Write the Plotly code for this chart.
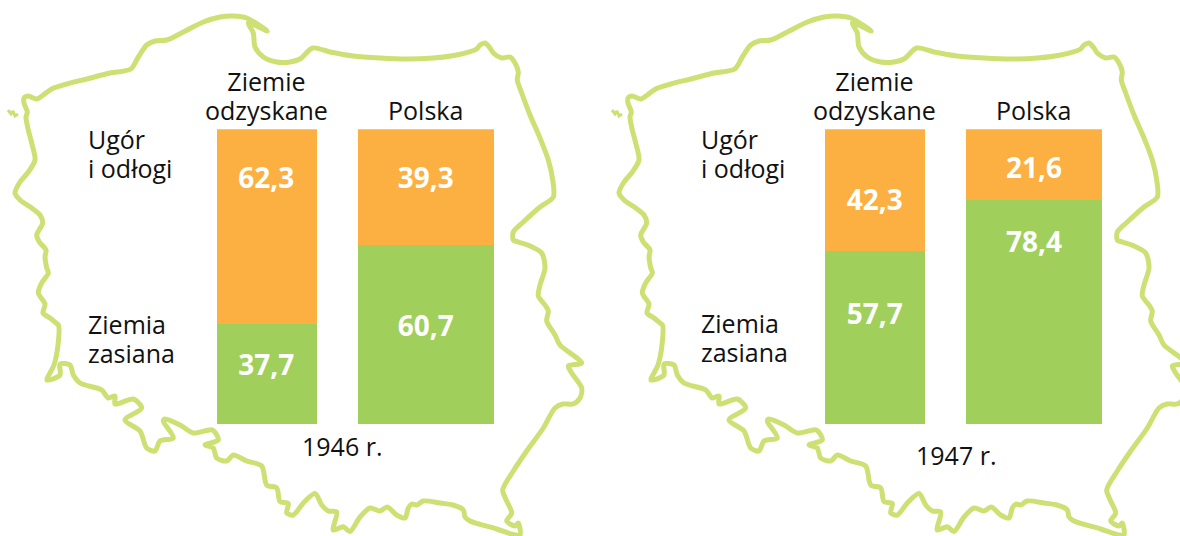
import plotly.graph_objects as go

# Printed values (as labelled in the picture)
categories = ["Ziemie odzyskane", "Polska"]
fallow_labels_1946 = ["62,3", "39,3"]
sown_labels_1946 = ["37,7", "60,7"]
fallow_labels_1947 = ["42,3", "21,6"]
sown_labels_1947 = ["57,7", "78,4"]

# Bar heights as drawn in the picture, % of the column (the source art is not exactly to scale)
sown_1946 = [33.9, 60.6]
fallow_1946 = [66.1, 39.4]
sown_1947 = [58.8, 76.1]
fallow_1947 = [41.2, 23.9]

# Label heights on the same 0-100 scale
fallow_label_y_1946 = [82.6, 82.6]
sown_label_y_1946 = [19.1, 32.3]
fallow_label_y_1947 = [75.0, 85.8]
sown_label_y_1947 = [36.4, 60.7]

# Decorative outline of Poland, canvas pixels
outline_x = [60, 60, 47, 54, 58, 58.5, 56, 50, 43, 45, 38.3, 41.7, 48.3, 46.7,
             46.7, 45, 46, 39.3, 36.7, 42.7, 40, 31.7, 20, 15, 20, 28.3, 35, 31.7, 28.3, 26, 27.3, 24, 24, 28.3, 36.7, 43.3,
             51.7, 66.7, 86.7, 110, 130.7, 138.3, 146.7, 155, 166.7, 183.3, 203.3, 220, 233.3, 246.7, 267.3,
             248.3, 253.3, 255, 263.3, 276.7, 290, 300,
             312.7, 330, 353.3, 380, 406.7, 433.3, 456.7, 476.7, 480, 485, 490, 493.3, 501.7, 510, 515, 518.3, 517.3,
             521.7, 530, 540, 548.3, 552.7, 553.3, 540, 523.3, 513.3, 513.3, 518.3, 530, 541.7, 545,
             540, 538.3, 545, 548.3, 546.7, 555, 560, 581.7, 568.3, 571.7, 581.7, 580, 573, 563, 555,
             543.3, 526.7, 513.3, 502.7, 506.7, 511.7, 506.7, 515, 518.3, 520,
             515, 496.7, 470, 465, 463.3, 453, 440, 423.3, 416.7, 411.7, 408.3, 405, 396.7, 387.3, 380, 370, 360, 350, 343.3,
             333.3, 336.7, 328.3, 321.7, 315, 303.3, 293.3, 286.7, 288.3, 280, 276.7, 266.7,
             261.7, 246.7, 233.3, 226.7, 216.7, 213.3, 205, 218.3, 212.5, 193.3, 180, 165, 163.3, 173.3, 160, 155, 146.7,
             140, 125, 141.7, 133.3, 115, 115, 108.3, 101.7, 80, 73.3, 70, 60]
outline_y = [364, 375, 380, 365, 345, 325, 323, 318, 313, 304, 293, 283, 273, 268,
             268, 257, 250, 242, 235, 223, 215, 208, 200, 193, 182, 172, 160, 143, 130, 117, 112, 103, 98, 96, 99, 95,
             89, 84, 79, 73, 69, 57, 45, 41, 40, 32, 22, 17, 16, 18, 31,
             23, 33, 47, 57, 62, 62, 59,
             48, 52, 56, 58, 59, 58, 55, 49, 45, 43, 48, 53, 58, 57, 63, 72,
             80, 93, 115, 138, 160, 180, 197, 207, 222, 232, 240, 242, 246, 253, 268,
             285, 296, 305, 311, 321, 335, 345, 363, 366, 373, 388, 398, 404, 404, 408,
             428, 451, 471, 490, 501, 513, 521, 526, 523, 535,
             535, 529, 521, 517, 510, 505, 503, 501, 505, 504, 508, 518, 515, 507, 511, 508, 517, 531.5, 526.7,
             530, 512, 511, 505, 493.5, 503, 515, 513, 503.5, 501.5, 488, 485,
             466, 461, 455, 461, 458, 448, 445, 440, 430, 433, 425, 419, 421, 438, 441, 451, 448,
             431, 420, 408, 399, 404, 396, 398, 390, 383, 375, 365, 364]
island_x = [8, 11, 13, 15, 18]
island_y = [110, 114, 111, 116, 114]

MAP_OFFSET_1947 = 604
W, H = 1180, 536
ORANGE, GREEN, OUTLINE = "#FDB042", "#A0CF5B", "#CDE073"
FONT = "Open Sans"
INK = "#111111"

fig = go.Figure()

for off in (0, MAP_OFFSET_1947):
    fig.add_trace(go.Scatter(x=[v + off for v in outline_x], y=outline_y, xaxis="x", yaxis="y", mode="lines",
                             line=dict(color=OUTLINE, width=5, shape="spline", smoothing=0.8),
                             hoverinfo="skip", showlegend=False))
    fig.add_trace(go.Scatter(x=[v + off for v in island_x], y=island_y, xaxis="x", yaxis="y", mode="lines",
                             line=dict(color=OUTLINE, width=3), hoverinfo="skip", showlegend=False))

widths = [100 / 159.4, 136 / 159.4]
groups = [("x2", "y2", sown_1946, fallow_1946, sown_labels_1946, fallow_labels_1946, sown_label_y_1946, fallow_label_y_1946),
          ("x3", "y3", sown_1947, fallow_1947, sown_labels_1947, fallow_labels_1947, sown_label_y_1947, fallow_label_y_1947)]
for xa, ya, sown, fallow, sl, fl, sy, fy in groups:
    fig.add_trace(go.Bar(x=categories, y=sown, width=widths, xaxis=xa, yaxis=ya, marker=dict(color=GREEN, line_width=0),
                         name="Ziemia zasiana", showlegend=False))
    fig.add_trace(go.Bar(x=categories, y=fallow, width=widths, xaxis=xa, yaxis=ya, marker=dict(color=ORANGE, line_width=0),
                         name="Ugór i odłogi", showlegend=False))
    fig.add_trace(go.Scatter(x=categories + categories, y=fy + sy, text=fl + sl, xaxis=xa, yaxis=ya, mode="text",
                             textfont=dict(family=FONT, size=28, color="white", weight=700), hoverinfo="skip", showlegend=False))

def big(*lines):
    # Glyphs at 25 px on a tighter line pitch than 1.3 x 25 px
    return "<br>".join(f'<span style="font-size:25px">{t}</span>' for t in lines)

def ann(px, py, lines, anchor="left", size=22.3):
    fig.add_annotation(x=px / W, y=1 - py / H, xref="paper", yref="paper", text=big(*lines), showarrow=False,
                       xanchor=anchor, yanchor="middle", align=anchor, font=dict(family=FONT, size=size, color=INK))

def header(xa, cat, py, lines):
    fig.add_annotation(x=cat, xref=xa, y=1 - py / H, yref="paper", text=big(*lines), showarrow=False,
                       xanchor="center", yanchor="middle", align="center", font=dict(family=FONT, size=22, color=INK))

for xa in ("x2", "x3"):
    header(xa, 0, 96, ["Ziemie", "odzyskane"])
    header(xa, 1, 110, ["Polska"])

for left, dy in ((86, 0), (699, -1)):
    ann(left, 153.5, ["Ugór", "i odłogi"])
    ann(left, 338.5 + dy, ["Ziemia", "zasiana"])
ann(341.5, 446, ["1946 r."], "center")
ann(956, 455, ["1947 r."], "center")

ydom = [1 - 424.7 / H, 1 - 129.3 / H]
cat_axis = dict(type="category", categoryorder="array", categoryarray=categories, range=[-0.5, 1.5],
                visible=False, showgrid=False, zeroline=False, fixedrange=True)
val_axis = dict(range=[0, 100], visible=False, showgrid=False, zeroline=False, fixedrange=True)
fig.update_layout(
    width=W, height=H, margin=dict(l=0, r=0, t=0, b=0), paper_bgcolor="white", plot_bgcolor="rgba(0,0,0,0)",
    barmode="stack", bargap=0, showlegend=False,
    xaxis=dict(domain=[0, 1], range=[0, W], visible=False, fixedrange=True),
    yaxis=dict(domain=[0, 1], range=[H, 0], visible=False, fixedrange=True),
    xaxis2=dict(cat_axis, domain=[186.6 / W, 505.4 / W], anchor="y2"),
    yaxis2=dict(val_axis, domain=ydom, anchor="x2"),
    xaxis3=dict(cat_axis, domain=[795.1 / W, 1113.5 / W], anchor="y3"),
    yaxis3=dict(val_axis, domain=ydom, anchor="x3"),
)
fig.write_html("out.html", config=dict(displayModeBar=False),
               post_script="document.body.style.margin='0';document.documentElement.style.overflow='hidden';")
